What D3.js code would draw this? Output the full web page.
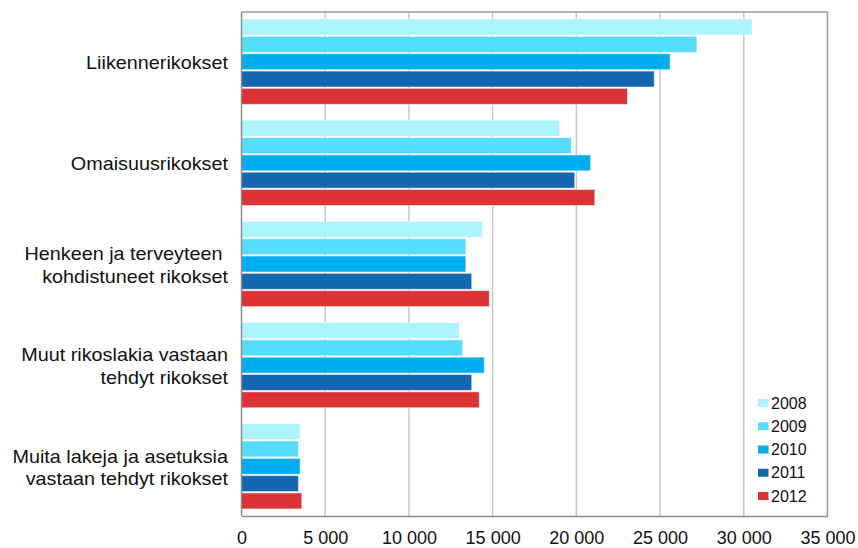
<!DOCTYPE html>
<html>
<head>
<meta charset="utf-8">
<script src="https://cdn.jsdelivr.net/npm/d3@7"></script>
<style>
  html, body { margin: 0; padding: 0; background: #fff; }
  svg { display: block; }
  text { font-family: "Liberation Sans", Arial, sans-serif; fill: #111; }
</style>
</head>
<body>
<svg id="chart" width="858" height="548"></svg>
<script>
// ---- data ----
const categories = [
  ["Liikennerikokset"],
  ["Omaisuusrikokset"],
  ["Henkeen ja terveyteen\u00a0", "kohdistuneet rikokset"],
  ["Muut rikoslakia vastaan", "tehdyt rikokset"],
  ["Muita lakeja ja asetuksia", "vastaan tehdyt rikokset"]
];
const years = ["2008", "2009", "2010", "2011", "2012"];
const colors = ["#acf3fe", "#55dcff", "#00aeef", "#1566b0", "#db3336"];
const values2008 = [30500, 19000, 14400, 13000, 3500];
const values2009 = [27200, 19700, 13400, 13200, 3400];
const values2010 = [25600, 20850, 13400, 14500, 3500];
const values2011 = [24650, 19900, 13750, 13750, 3400];
const values2012 = [23050, 21100, 14800, 14200, 3600];
const xTicks = [0, 5000, 10000, 15000, 20000, 25000, 30000, 35000];

const series = [values2008, values2009, values2010, values2011, values2012];

// ---- layout ----
const svg = d3.select("#chart");
const L = 241.5, R = 827.5, T = 12, B = 516;

const x = d3.scaleLinear().domain([0, 35000]).range([L, R]);
const y0 = d3.scaleBand().domain(d3.range(categories.length)).range([T, B])
  .paddingInner(0.157).paddingOuter(0.07);
const y1 = d3.scaleBand().domain(d3.range(years.length)).range([0, y0.bandwidth()])
  .paddingInner(0.08).paddingOuter(0);

const fmt = d3.formatLocale({decimal: ",", thousands: " ", grouping: [3], currency: ["", ""]}).format(",d");

// gridlines
svg.append("g").selectAll("line").data(xTicks.slice(1, -1)).join("line")
  .attr("x1", d => x(d)).attr("x2", d => x(d))
  .attr("y1", T).attr("y2", B)
  .attr("stroke", "#c6c6c6").attr("stroke-width", 1.5);

// bars
const groups = svg.append("g").selectAll("g").data(categories).join("g")
  .attr("transform", (d, i) => `translate(0,${y0(i)})`);
groups.selectAll("rect").data((d, i) => series.map((s, j) => ({j, v: s[i]}))).join("rect")
  .attr("x", x(0))
  .attr("y", d => y1(d.j))
  .attr("width", d => x(d.v) - x(0))
  .attr("height", y1.bandwidth())
  .attr("fill", d => colors[d.j])
  .attr("stroke", "rgba(255,255,255,0.5)")
  .attr("stroke-width", 1);

// plot border
svg.append("line").attr("x1", L).attr("x2", R).attr("y1", T).attr("y2", T)
  .attr("stroke", "#9a9a9a").attr("stroke-width", 1.5);
svg.append("line").attr("x1", R).attr("x2", R).attr("y1", T).attr("y2", B)
  .attr("stroke", "#9a9a9a").attr("stroke-width", 1.5);
svg.append("line").attr("x1", L).attr("x2", L).attr("y1", T).attr("y2", B)
  .attr("stroke", "#8c8c8c").attr("stroke-width", 1.5);

// x axis
const xAxis = d3.axisBottom(x).tickValues(xTicks).tickSize(0).tickPadding(0).tickFormat(fmt);
const gx = svg.append("g").attr("transform", `translate(0,${B})`).call(xAxis);
gx.select(".domain").attr("stroke", "#8c8c8c").attr("stroke-width", 1.5);
gx.selectAll("text").attr("dy", null).attr("y", 28)
  .style("font-size", "18px").style("font-family", '"Liberation Sans", Arial, sans-serif').attr("fill", "#111");

// category labels (slightly widened like the original rendering)
const labelX = 228;
const cl = svg.append("g")
  .attr("transform", `translate(${labelX},0) scale(1.1,1) translate(${-labelX},0)`)
  .selectAll("text").data(categories).join("text")
  .attr("text-anchor", "end")
  .style("font-size", "18px")
  .style("white-space", "pre");
cl.each(function(lines, i) {
  const c = y0(i) + y0.bandwidth() / 2 + 7.5;
  const lh = 22.4;
  const start = c - (lines.length - 1) * lh / 2;
  d3.select(this).selectAll("tspan").data(lines).join("tspan")
    .attr("x", labelX).attr("y", (d, k) => start + k * lh).text(d => d);
});

// legend
const lg = svg.append("g").selectAll("g").data(years).join("g")
  .attr("transform", (d, i) => `translate(758,${403 + i * 23.25})`);
lg.append("rect").attr("x", 0).attr("y", -4).attr("width", 10.5).attr("height", 8)
  .attr("fill", (d, i) => colors[i]);
lg.append("text").attr("x", 13).attr("y", 5.5).style("font-size", "16px").text(d => d);
</script>
</body>
</html>
